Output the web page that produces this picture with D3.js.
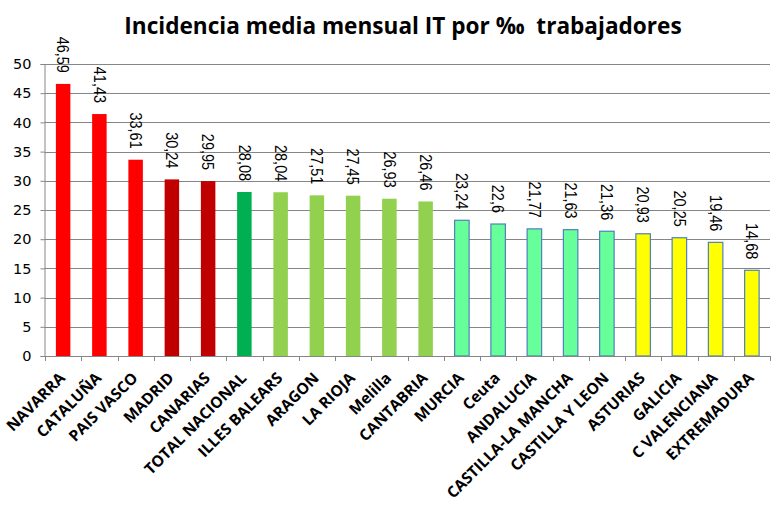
<!DOCTYPE html>
<html>
<head>
<meta charset="utf-8">
<script src="https://cdn.jsdelivr.net/npm/d3@7"></script>
<style>
  html, body { margin: 0; padding: 0; background: #fff; }
  svg { display: block; }
</style>
</head>
<body>
<svg id="chart" width="772" height="506"></svg>
<script>
const categories = ["NAVARRA","CATALUÑA","PAIS VASCO","MADRID","CANARIAS","TOTAL NACIONAL","ILLES BALEARS","ARAGON","LA RIOJA","Melilla","CANTABRIA","MURCIA","Ceuta","ANDALUCIA","CASTILLA-LA MANCHA","CASTILLA Y LEON","ASTURIAS","GALICIA","C VALENCIANA","EXTREMADURA"];
const values = [46.59,41.43,33.61,30.24,29.95,28.08,28.04,27.51,27.45,26.93,26.46,23.24,22.6,21.77,21.63,21.36,20.93,20.25,19.46,14.68];
const valueLabels = ["46,59","41,43","33,61","30,24","29,95","28,08","28,04","27,51","27,45","26,93","26,46","23,24","22,6","21,77","21,63","21,36","20,93","20,25","19,46","14,68"];
const groups = ["high","high","high","mid","mid","total","lg","lg","lg","lg","lg","mint","mint","mint","mint","mint","yel","yel","yel","yel"];
const yTicks = [0,5,10,15,20,25,30,35,40,45,50];
const title = "Incidencia media mensual IT por ‰  trabajadores";

const fillColors = {high:"#FF0000", mid:"#C00000", total:"#00B050", lg:"#92D050", mint:"#66FF99", yel:"#FFFF00"};
const strokeColors = {high:"none", mid:"none", total:"none", lg:"none", mint:"#4F81BD", yel:"#4F81BD"};

const svg = d3.select("#chart");
const plotLeft = 44.5, plotRight = 770, plotTop = 64, plotBottom = 356;

const x = d3.scaleBand().domain(categories).range([45, plotRight]).paddingInner(0.6).paddingOuter(0.3);
const y = d3.scaleLinear().domain([0, 50]).range([plotBottom, plotTop]);

// gridlines
svg.append("g").selectAll("line").data(yTicks.filter(d => d > 0)).join("line")
  .attr("x1", plotLeft).attr("x2", plotRight)
  .attr("y1", d => Math.round(y(d)) + 0.5).attr("y2", d => Math.round(y(d)) + 0.5)
  .attr("stroke", "#868686").attr("stroke-width", 1);

// y axis
const yAxis = d3.axisLeft(y).tickValues(yTicks).tickSize(4).tickPadding(9).tickFormat(d3.format("d"));
const gy = svg.append("g").attr("transform", `translate(${plotLeft},0)`).call(yAxis);
gy.select(".domain").attr("stroke", "#868686");
gy.selectAll(".tick line").attr("stroke", "#868686");
gy.selectAll(".tick text").attr("font-family", "DejaVu Sans, sans-serif").attr("font-size", 14.5).attr("fill", "#000");

// bars
svg.append("g").selectAll("rect").data(categories).join("rect")
  .attr("x", d => x(d))
  .attr("y", (d, i) => y(values[i]))
  .attr("width", x.bandwidth())
  .attr("height", (d, i) => y(0) - y(values[i]))
  .attr("fill", (d, i) => fillColors[groups[i]])
  .attr("stroke", (d, i) => strokeColors[groups[i]])
  .attr("stroke-width", 1.2);

// x axis
const step = x.step();
const boundaries = d3.range(categories.length + 1).map(i => 45 + i * step);
svg.append("line").attr("x1", plotLeft).attr("x2", plotRight).attr("y1", plotBottom + 0.5).attr("y2", plotBottom + 0.5).attr("stroke", "#868686");
svg.append("g").selectAll("line").data(boundaries).join("line")
  .attr("x1", d => Math.round(d) + 0.5).attr("x2", d => Math.round(d) + 0.5)
  .attr("y1", plotBottom).attr("y2", plotBottom + 5)
  .attr("stroke", "#868686");

// x labels
svg.append("g").selectAll("text").data(categories).join("text")
  .attr("transform", d => `translate(${x(d) + x.bandwidth() / 2 + 3},${plotBottom + 23}) rotate(-45)`)
  .attr("text-anchor", "end")
  .attr("font-family", "Open Sans, sans-serif")
  .attr("font-weight", "bold")
  .attr("font-size", 15.5)
  .attr("fill", "#000")
  .text(d => d);

// value labels
svg.append("g").selectAll("text").data(categories).join("text")
  .attr("transform", (d, i) => `translate(${x(d) + x.bandwidth() / 2},${y(values[i]) - 11}) scale(1.15,1) rotate(90)`)
  .attr("text-anchor", "end")
  .attr("dy", "0.35em")
  .attr("font-family", "Liberation Sans, Arial, sans-serif")
  .attr("font-size", 14.5)
  .attr("fill", "#000")
  .text((d, i) => valueLabels[i]);

// title
svg.append("text")
  .attr("x", 403).attr("y", 34)
  .attr("text-anchor", "middle")
  .attr("font-family", "Open Sans, sans-serif")
  .attr("font-weight", "bold")
  .attr("font-size", 22.6)
  .style("white-space", "pre")
  .attr("fill", "#000")
  .text(title);
</script>
</body>
</html>
